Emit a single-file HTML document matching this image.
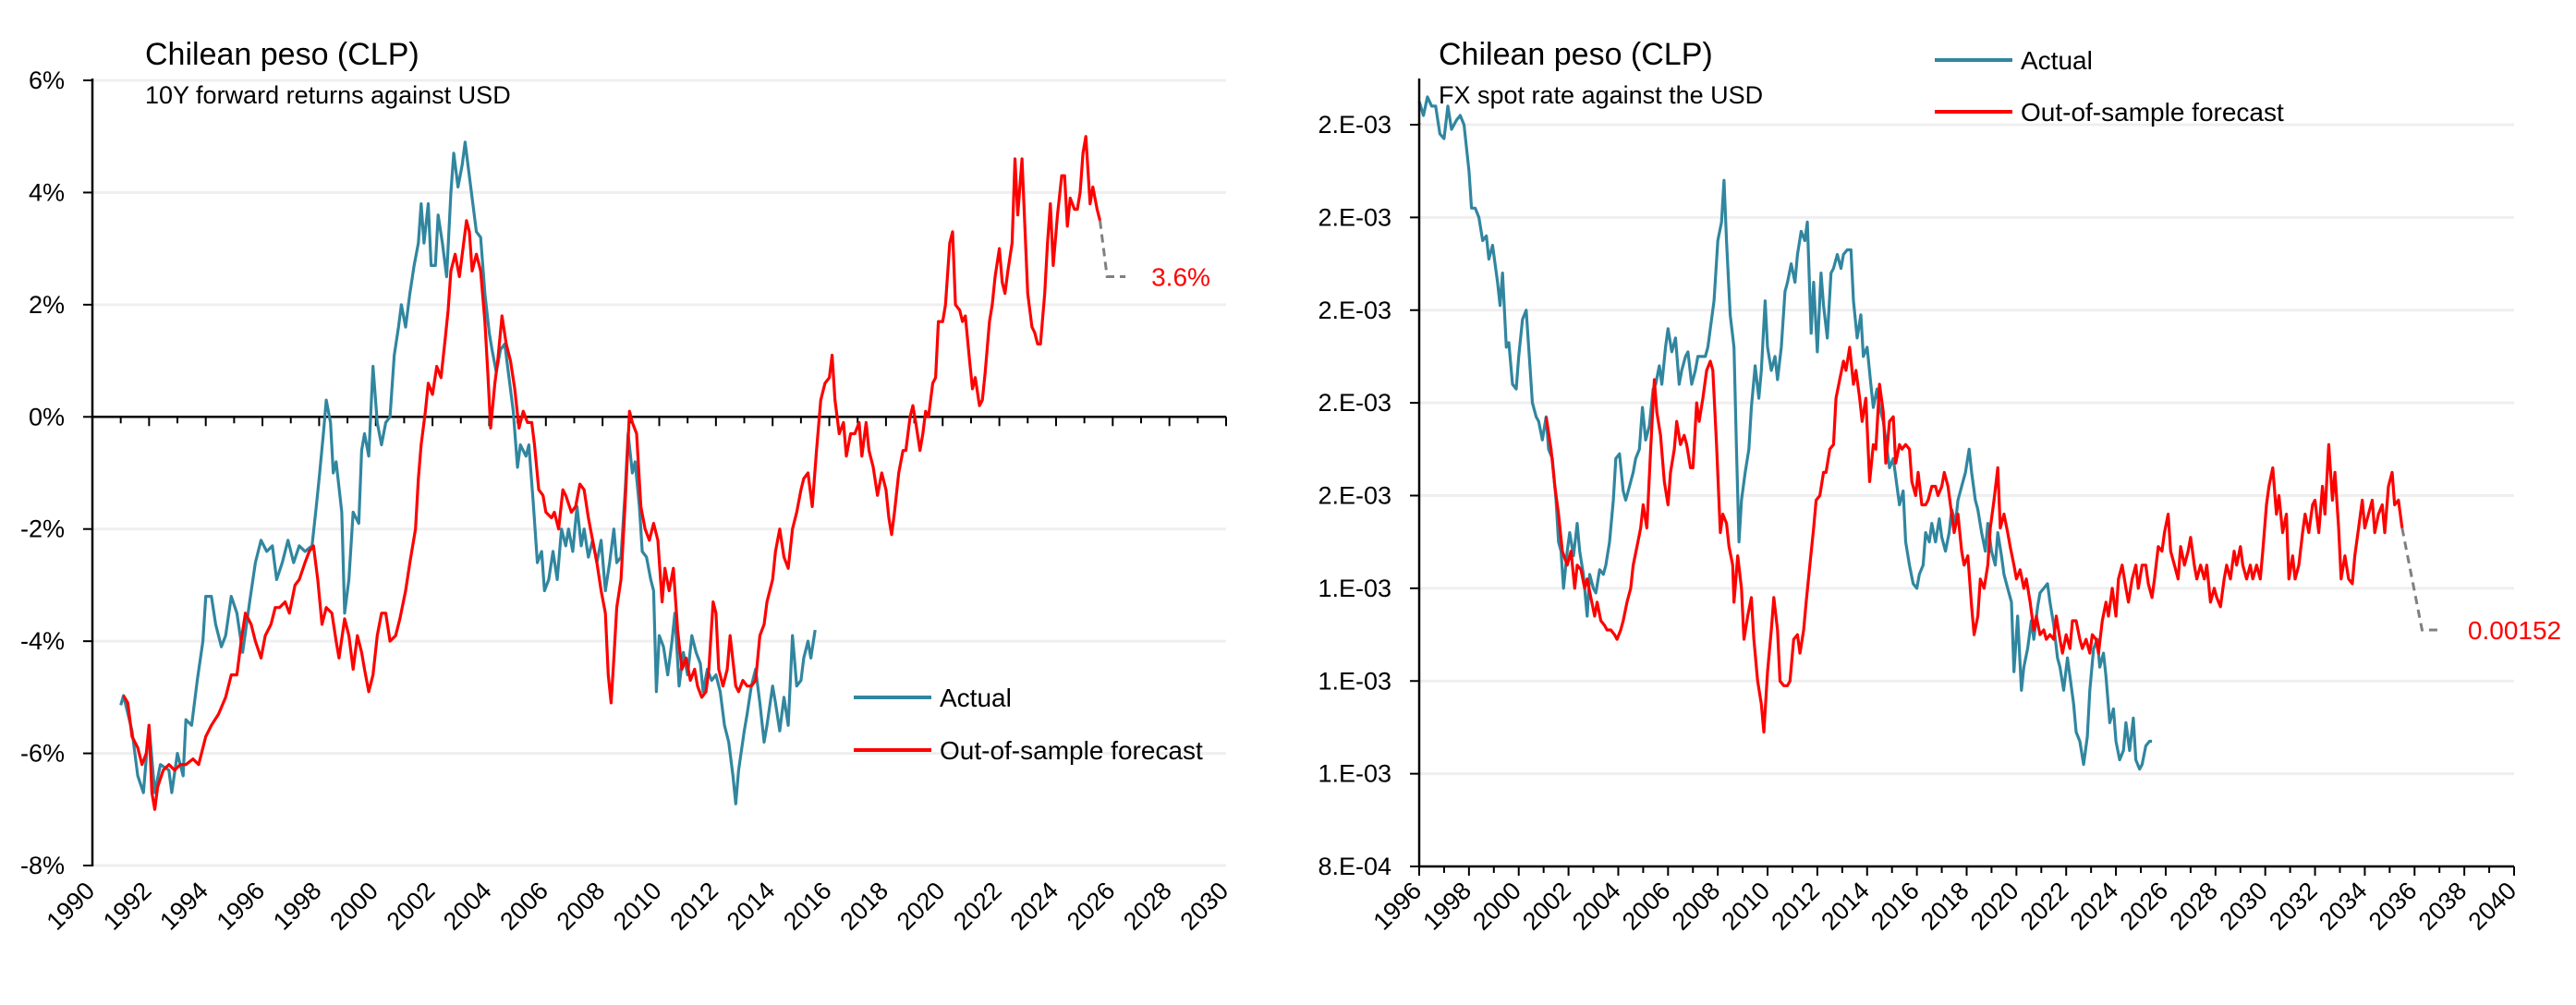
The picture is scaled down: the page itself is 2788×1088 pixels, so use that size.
<!DOCTYPE html>
<html><head><meta charset="utf-8"><style>
html,body{margin:0;padding:0;background:#fff;}
svg{display:block;font-family:"Liberation Sans Narrow","Liberation Sans",sans-serif;}
</style></head><body>
<svg id="c" width="2788" height="1088" viewBox="0 0 2788 1088"></svg>
<script>
// ---------- LEFT CHART DATA (10Y forward returns, %) ----------
const leftYTicks = [6,4,2,0,-2,-4,-6,-8];
const leftYLabels = ["6%","4%","2%","0%","-2%","-4%","-6%","-8%"];
const leftXTicks = [1990,1992,1994,1996,1998,2000,2002,2004,2006,2008,2010,2012,2014,2016,2018,2020,2022,2024,2026,2028,2030];
const leftActual = [[1991.0,-5.14],[1991.1,-4.97],[1991.4,-5.6],[1991.6,-6.4],[1991.8,-6.7],[1992.0,-5.5],[1992.2,-6.7],[1992.4,-6.2],[1992.7,-6.3],[1992.8,-6.7],[1993.0,-6.0],[1993.2,-6.4],[1993.3,-5.4],[1993.5,-5.5],[1993.7,-4.7],[1993.9,-4.0],[1994.0,-3.2],[1994.2,-3.2],[1994.35,-3.7],[1994.55,-4.1],[1994.7,-3.9],[1994.9,-3.2],[1995.1,-3.5],[1995.3,-4.2],[1995.55,-3.3],[1995.75,-2.6],[1995.95,-2.2],[1996.15,-2.4],[1996.35,-2.3],[1996.5,-2.9],[1996.7,-2.6],[1996.9,-2.2],[1997.1,-2.6],[1997.3,-2.3],[1997.5,-2.4],[1997.75,-2.3],[1997.9,-1.6],[1998.0,-1.1],[1998.15,-0.3],[1998.25,0.3],[1998.4,-0.1],[1998.5,-1.0],[1998.6,-0.8],[1998.8,-1.7],[1998.9,-3.5],[1999.05,-2.9],[1999.2,-1.7],[1999.4,-1.9],[1999.5,-0.6],[1999.6,-0.3],[1999.75,-0.7],[1999.9,0.9],[2000.05,-0.1],[2000.2,-0.5],[2000.35,-0.1],[2000.5,0.0],[2000.65,1.1],[2000.8,1.6],[2000.9,2.0],[2001.05,1.6],[2001.2,2.2],[2001.35,2.7],[2001.5,3.1],[2001.6,3.8],[2001.7,3.1],[2001.85,3.8],[2001.95,2.7],[2002.1,2.7],[2002.2,3.6],[2002.35,3.1],[2002.5,2.5],[2002.65,4.0],[2002.75,4.7],[2002.9,4.1],[2003.05,4.5],[2003.15,4.9],[2003.25,4.5],[2003.4,3.9],[2003.55,3.3],[2003.7,3.2],[2003.85,2.2],[2004.0,1.5],[2004.1,1.2],[2004.25,0.8],[2004.4,1.2],[2004.55,1.3],[2004.7,0.7],[2004.85,0.1],[2005.0,-0.9],[2005.1,-0.5],[2005.3,-0.7],[2005.4,-0.5],[2005.55,-1.5],[2005.7,-2.6],[2005.85,-2.4],[2005.95,-3.1],[2006.1,-2.9],[2006.25,-2.4],[2006.4,-2.9],[2006.55,-2.0],[2006.7,-2.3],[2006.8,-2.0],[2006.95,-2.4],[2007.1,-1.6],[2007.25,-2.3],[2007.35,-2.0],[2007.5,-2.5],[2007.65,-2.2],[2007.8,-2.6],[2007.95,-2.2],[2008.1,-3.1],[2008.25,-2.6],[2008.4,-2.0],[2008.5,-2.6],[2008.65,-2.5],[2008.8,-1.3],[2008.9,-0.3],[2009.05,-1.0],[2009.15,-0.8],[2009.3,-1.6],[2009.4,-2.4],[2009.55,-2.5],[2009.7,-2.9],[2009.8,-3.1],[2009.9,-4.9],[2010.0,-3.9],[2010.15,-4.1],[2010.3,-4.6],[2010.45,-4.0],[2010.55,-3.5],[2010.7,-4.8],[2010.85,-4.2],[2011.0,-4.6],[2011.15,-3.9],[2011.3,-4.2],[2011.45,-4.4],[2011.55,-4.9],[2011.7,-4.5],[2011.85,-4.7],[2012.0,-4.6],[2012.15,-4.9],[2012.3,-5.5],[2012.45,-5.8],[2012.6,-6.4],[2012.7,-6.9],[2012.8,-6.3],[2013.0,-5.6],[2013.1,-5.3],[2013.25,-4.8],[2013.4,-4.5],[2013.55,-5.1],[2013.7,-5.8],[2013.8,-5.5],[2014.0,-4.8],[2014.1,-5.1],[2014.25,-5.6],[2014.4,-5.0],[2014.55,-5.5],[2014.7,-3.9],[2014.85,-4.8],[2015.0,-4.7],[2015.1,-4.3],[2015.25,-4.0],[2015.35,-4.3],[2015.5,-3.8]];
const leftForecast = [[1991.1,-4.97],[1991.25,-5.1],[1991.4,-5.7],[1991.6,-5.9],[1991.75,-6.2],[1991.9,-6.0],[1992.0,-5.5],[1992.1,-6.7],[1992.2,-7.0],[1992.3,-6.6],[1992.5,-6.3],[1992.7,-6.2],[1992.9,-6.3],[1993.1,-6.2],[1993.3,-6.2],[1993.55,-6.1],[1993.75,-6.2],[1994.0,-5.7],[1994.2,-5.5],[1994.45,-5.3],[1994.7,-5.0],[1994.9,-4.6],[1995.1,-4.6],[1995.25,-4.0],[1995.4,-3.5],[1995.6,-3.7],[1995.75,-4.0],[1995.95,-4.3],[1996.1,-3.9],[1996.3,-3.7],[1996.45,-3.4],[1996.6,-3.4],[1996.8,-3.3],[1996.95,-3.5],[1997.15,-3.0],[1997.3,-2.9],[1997.5,-2.6],[1997.65,-2.4],[1997.8,-2.3],[1997.95,-2.9],[1998.1,-3.7],[1998.25,-3.4],[1998.45,-3.5],[1998.6,-4.0],[1998.7,-4.3],[1998.9,-3.6],[1999.05,-3.9],[1999.2,-4.5],[1999.35,-3.9],[1999.5,-4.2],[1999.6,-4.5],[1999.75,-4.9],[1999.9,-4.6],[2000.05,-3.9],[2000.2,-3.5],[2000.35,-3.5],[2000.5,-4.0],[2000.7,-3.9],[2000.85,-3.6],[2001.05,-3.1],[2001.2,-2.6],[2001.4,-2.0],[2001.5,-1.1],[2001.6,-0.5],[2001.75,0.1],[2001.85,0.6],[2002.0,0.4],[2002.15,0.9],[2002.3,0.7],[2002.45,1.4],[2002.55,1.9],[2002.65,2.6],[2002.8,2.9],[2002.95,2.5],[2003.05,2.9],[2003.2,3.5],[2003.3,3.3],[2003.4,2.6],[2003.55,2.9],[2003.7,2.6],[2003.85,1.7],[2003.95,0.8],[2004.05,-0.2],[2004.2,0.6],[2004.3,1.0],[2004.45,1.8],[2004.6,1.3],[2004.75,1.0],[2004.9,0.5],[2005.05,-0.2],[2005.2,0.1],[2005.35,-0.1],[2005.5,-0.1],[2005.6,-0.5],[2005.75,-1.3],[2005.9,-1.4],[2006.0,-1.7],[2006.2,-1.8],[2006.3,-1.7],[2006.45,-2.0],[2006.6,-1.3],[2006.7,-1.4],[2006.9,-1.7],[2007.05,-1.6],[2007.2,-1.2],[2007.35,-1.3],[2007.5,-1.8],[2007.65,-2.2],[2007.8,-2.6],[2007.95,-3.1],[2008.1,-3.5],[2008.2,-4.6],[2008.3,-5.1],[2008.4,-4.3],[2008.5,-3.4],[2008.65,-2.9],[2008.8,-1.5],[2008.95,0.1],[2009.05,-0.1],[2009.2,-0.3],[2009.35,-1.6],[2009.5,-2.0],[2009.65,-2.2],[2009.8,-1.9],[2009.95,-2.2],[2010.1,-3.3],[2010.2,-2.7],[2010.35,-3.1],[2010.5,-2.7],[2010.65,-3.8],[2010.8,-4.5],[2010.95,-4.3],[2011.1,-4.7],[2011.25,-4.5],[2011.35,-4.8],[2011.5,-5.0],[2011.65,-4.9],[2011.75,-4.5],[2011.9,-3.3],[2012.0,-3.5],[2012.1,-4.5],[2012.25,-4.8],[2012.4,-4.5],[2012.5,-3.9],[2012.7,-4.8],[2012.8,-4.9],[2012.95,-4.7],[2013.1,-4.8],[2013.25,-4.8],[2013.4,-4.7],[2013.55,-3.9],[2013.7,-3.7],[2013.8,-3.3],[2014.0,-2.9],[2014.1,-2.4],[2014.25,-2.0],[2014.4,-2.5],[2014.55,-2.7],[2014.7,-2.0],[2014.85,-1.7],[2015.0,-1.3],[2015.1,-1.1],[2015.25,-1.0],[2015.4,-1.6],[2015.55,-0.6],[2015.7,0.3],[2015.85,0.6],[2016.0,0.7],[2016.1,1.1],[2016.2,0.3],[2016.35,-0.3],[2016.5,-0.1],[2016.6,-0.7],[2016.75,-0.3],[2016.9,-0.3],[2017.05,-0.1],[2017.15,-0.7],[2017.3,-0.1],[2017.4,-0.6],[2017.55,-0.9],[2017.7,-1.4],[2017.85,-1.0],[2018.0,-1.3],[2018.1,-1.8],[2018.2,-2.1],[2018.3,-1.7],[2018.45,-1.0],[2018.6,-0.6],[2018.7,-0.6],[2018.85,0.0],[2018.95,0.2],[2019.05,-0.1],[2019.2,-0.6],[2019.3,-0.3],[2019.4,0.1],[2019.5,0.0],[2019.65,0.6],[2019.75,0.7],[2019.85,1.7],[2020.0,1.7],[2020.1,2.0],[2020.25,3.1],[2020.35,3.3],[2020.45,2.0],[2020.6,1.9],[2020.7,1.7],[2020.8,1.8],[2020.95,1.0],[2021.05,0.5],[2021.15,0.7],[2021.3,0.2],[2021.4,0.3],[2021.5,0.8],[2021.65,1.7],[2021.75,2.0],[2021.85,2.5],[2022.0,3.0],[2022.1,2.4],[2022.2,2.2],[2022.3,2.6],[2022.45,3.1],[2022.55,4.6],[2022.65,3.6],[2022.8,4.6],[2022.9,3.4],[2023.0,2.2],[2023.15,1.6],[2023.25,1.5],[2023.35,1.3],[2023.45,1.3],[2023.6,2.2],[2023.7,3.1],[2023.8,3.8],[2023.9,2.7],[2024.05,3.6],[2024.2,4.3],[2024.3,4.3],[2024.4,3.4],[2024.5,3.9],[2024.65,3.7],[2024.75,3.7],[2024.85,4.0],[2024.95,4.7],[2025.05,5.0],[2025.2,3.8],[2025.3,4.1],[2025.45,3.7],[2025.55,3.5]];
const leftProjection = [[2025.55,3.5],[2025.8,2.5],[2026.45,2.5]];
const leftEndLabel = "3.6%";

// ---------- RIGHT CHART DATA (FX spot, ×1e-3 USD per CLP) ----------
const rightYTicks = [2.4,2.2,2.0,1.8,1.6,1.4,1.2,1.0,0.8];
const rightYLabels = ["2.E-03","2.E-03","2.E-03","2.E-03","2.E-03","1.E-03","1.E-03","1.E-03","8.E-04"];
const rightXTicks = [1996,1998,2000,2002,2004,2006,2008,2010,2012,2014,2016,2018,2020,2022,2024,2026,2028,2030,2032,2034,2036,2038,2040];
const rightActual = [[1996.0,2.45],[1996.17,2.42],[1996.33,2.46],[1996.5,2.44],[1996.66,2.44],[1996.83,2.38],[1997.0,2.37],[1997.15,2.44],[1997.3,2.39],[1997.5,2.41],[1997.65,2.42],[1997.8,2.40],[1998.0,2.30],[1998.1,2.22],[1998.25,2.22],[1998.4,2.2],[1998.55,2.15],[1998.7,2.16],[1998.8,2.11],[1998.95,2.14],[1999.15,2.06],[1999.25,2.01],[1999.35,2.08],[1999.5,1.92],[1999.6,1.93],[1999.75,1.84],[1999.9,1.83],[2000.0,1.90],[2000.15,1.98],[2000.3,2.0],[2000.4,1.92],[2000.55,1.8],[2000.7,1.77],[2000.8,1.76],[2000.95,1.72],[2001.1,1.77],[2001.2,1.7],[2001.35,1.68],[2001.5,1.59],[2001.6,1.50],[2001.7,1.48],[2001.8,1.40],[2001.95,1.48],[2002.05,1.52],[2002.2,1.47],[2002.35,1.54],[2002.45,1.48],[2002.6,1.43],[2002.75,1.34],[2002.85,1.43],[2003.0,1.40],[2003.1,1.39],[2003.25,1.44],[2003.4,1.43],[2003.5,1.45],[2003.65,1.50],[2003.8,1.59],[2003.9,1.68],[2004.05,1.69],[2004.2,1.61],[2004.3,1.59],[2004.45,1.62],[2004.6,1.65],[2004.7,1.68],[2004.85,1.7],[2004.97,1.79],[2005.1,1.72],[2005.25,1.75],[2005.4,1.83],[2005.5,1.84],[2005.65,1.88],[2005.75,1.84],[2005.9,1.92],[2006.0,1.96],[2006.15,1.91],[2006.3,1.94],[2006.45,1.84],[2006.55,1.87],[2006.7,1.90],[2006.8,1.91],[2006.95,1.84],[2007.1,1.87],[2007.2,1.90],[2007.35,1.90],[2007.5,1.90],[2007.6,1.92],[2007.75,1.98],[2007.85,2.02],[2008.0,2.15],[2008.15,2.19],[2008.25,2.28],[2008.35,2.15],[2008.5,1.99],[2008.65,1.92],[2008.75,1.7],[2008.85,1.50],[2008.95,1.59],[2009.1,1.65],[2009.25,1.7],[2009.35,1.79],[2009.5,1.88],[2009.65,1.81],[2009.75,1.87],[2009.9,2.02],[2010.0,1.92],[2010.15,1.87],[2010.3,1.90],[2010.4,1.85],[2010.55,1.92],[2010.7,2.04],[2010.8,2.06],[2010.95,2.10],[2011.1,2.06],[2011.2,2.12],[2011.35,2.17],[2011.5,2.15],[2011.6,2.19],[2011.75,1.95],[2011.85,2.06],[2012.0,1.91],[2012.15,2.08],[2012.25,2.01],[2012.4,1.94],[2012.55,2.08],[2012.65,2.09],[2012.8,2.12],[2012.95,2.09],[2013.05,2.12],[2013.2,2.13],[2013.35,2.13],[2013.45,2.02],[2013.6,1.94],[2013.75,1.99],[2013.85,1.90],[2014.0,1.92],[2014.15,1.84],[2014.25,1.79],[2014.4,1.83],[2014.5,1.79],[2014.65,1.76],[2014.8,1.7],[2014.9,1.66],[2015.05,1.68],[2015.2,1.62],[2015.3,1.58],[2015.45,1.61],[2015.55,1.50],[2015.7,1.45],[2015.85,1.41],[2016.0,1.40],[2016.1,1.43],[2016.25,1.45],[2016.35,1.52],[2016.5,1.50],[2016.6,1.54],[2016.75,1.50],[2016.9,1.55],[2017.0,1.51],[2017.15,1.48],[2017.3,1.52],[2017.4,1.57],[2017.55,1.54],[2017.65,1.59],[2017.8,1.62],[2017.95,1.65],[2018.1,1.70],[2018.2,1.65],[2018.35,1.59],[2018.45,1.57],[2018.6,1.52],[2018.75,1.48],[2018.85,1.54],[2019.0,1.48],[2019.15,1.45],[2019.25,1.52],[2019.4,1.47],[2019.5,1.43],[2019.65,1.40],[2019.8,1.37],[2019.9,1.22],[2020.05,1.34],[2020.2,1.18],[2020.3,1.23],[2020.45,1.27],[2020.6,1.33],[2020.7,1.29],[2020.85,1.36],[2020.95,1.39],[2021.1,1.40],[2021.25,1.41],[2021.35,1.37],[2021.5,1.32],[2021.65,1.25],[2021.75,1.23],[2021.9,1.18],[2022.05,1.25],[2022.15,1.21],[2022.3,1.15],[2022.4,1.09],[2022.55,1.07],[2022.7,1.02],[2022.85,1.08],[2022.95,1.18],[2023.1,1.27],[2023.25,1.29],[2023.35,1.23],[2023.5,1.26],[2023.6,1.21],[2023.75,1.11],[2023.9,1.14],[2024.0,1.07],[2024.15,1.03],[2024.3,1.05],[2024.4,1.11],[2024.55,1.05],[2024.7,1.12],[2024.8,1.03],[2024.95,1.01],[2025.05,1.02],[2025.2,1.06],[2025.35,1.07],[2025.45,1.07]];
const rightForecast = [[2001.1,1.77],[2001.3,1.70],[2001.45,1.62],[2001.6,1.56],[2001.75,1.48],[2001.95,1.45],[2002.1,1.48],[2002.25,1.40],[2002.35,1.45],[2002.5,1.44],[2002.65,1.40],[2002.75,1.42],[2002.9,1.38],[2003.05,1.34],[2003.15,1.37],[2003.3,1.33],[2003.45,1.32],[2003.55,1.31],[2003.7,1.31],[2003.85,1.30],[2003.95,1.29],[2004.1,1.31],[2004.2,1.33],[2004.35,1.37],[2004.5,1.40],[2004.6,1.45],[2004.75,1.49],[2004.9,1.53],[2005.0,1.58],[2005.15,1.53],[2005.3,1.70],[2005.45,1.85],[2005.55,1.78],[2005.7,1.73],[2005.85,1.63],[2006.0,1.58],[2006.1,1.65],[2006.25,1.70],[2006.35,1.76],[2006.5,1.71],[2006.65,1.73],[2006.75,1.71],[2006.9,1.66],[2007.0,1.66],[2007.15,1.80],[2007.25,1.76],[2007.4,1.81],[2007.55,1.87],[2007.7,1.89],[2007.8,1.87],[2007.95,1.71],[2008.1,1.52],[2008.2,1.56],[2008.35,1.54],[2008.45,1.49],[2008.6,1.45],[2008.65,1.37],[2008.8,1.47],[2008.95,1.40],[2009.05,1.29],[2009.2,1.34],[2009.35,1.38],[2009.45,1.29],[2009.6,1.20],[2009.75,1.15],[2009.85,1.09],[2010.0,1.22],[2010.15,1.31],[2010.25,1.38],[2010.4,1.31],[2010.5,1.20],[2010.65,1.19],[2010.8,1.19],[2010.9,1.20],[2011.05,1.29],[2011.2,1.30],[2011.3,1.26],[2011.45,1.31],[2011.55,1.37],[2011.7,1.45],[2011.85,1.53],[2011.95,1.59],[2012.1,1.60],[2012.25,1.65],[2012.35,1.65],[2012.5,1.70],[2012.65,1.71],[2012.75,1.81],[2012.9,1.85],[2013.05,1.89],[2013.15,1.87],[2013.3,1.92],[2013.45,1.84],[2013.55,1.87],[2013.7,1.81],[2013.8,1.76],[2013.95,1.81],[2014.1,1.63],[2014.25,1.71],[2014.35,1.70],[2014.5,1.84],[2014.65,1.78],[2014.75,1.67],[2014.9,1.76],[2015.05,1.77],[2015.15,1.67],[2015.3,1.71],[2015.4,1.70],[2015.55,1.71],[2015.7,1.70],[2015.8,1.63],[2015.95,1.60],[2016.05,1.65],[2016.2,1.58],[2016.35,1.58],[2016.45,1.59],[2016.6,1.62],[2016.75,1.62],[2016.85,1.60],[2017.0,1.62],[2017.1,1.65],[2017.25,1.62],[2017.4,1.56],[2017.5,1.52],[2017.65,1.56],[2017.8,1.48],[2017.9,1.45],[2018.05,1.47],[2018.2,1.36],[2018.3,1.30],[2018.45,1.34],[2018.55,1.42],[2018.7,1.40],[2018.85,1.45],[2018.95,1.53],[2019.1,1.59],[2019.25,1.66],[2019.35,1.53],[2019.5,1.56],[2019.65,1.52],[2019.75,1.49],[2019.9,1.45],[2020.0,1.42],[2020.15,1.44],[2020.3,1.40],[2020.4,1.42],[2020.55,1.37],[2020.7,1.31],[2020.8,1.34],[2020.95,1.30],[2021.1,1.31],[2021.2,1.29],[2021.35,1.30],[2021.5,1.29],[2021.6,1.34],[2021.75,1.29],[2021.85,1.26],[2022.0,1.30],[2022.15,1.27],[2022.25,1.33],[2022.4,1.33],[2022.55,1.29],[2022.65,1.27],[2022.8,1.29],[2022.95,1.26],[2023.05,1.30],[2023.2,1.29],[2023.3,1.26],[2023.45,1.33],[2023.6,1.37],[2023.7,1.34],[2023.85,1.40],[2024.0,1.34],[2024.1,1.42],[2024.25,1.45],[2024.4,1.40],[2024.5,1.37],[2024.65,1.42],[2024.8,1.45],[2024.9,1.40],[2025.05,1.45],[2025.2,1.45],[2025.3,1.41],[2025.45,1.38],[2025.55,1.42],[2025.7,1.49],[2025.85,1.48],[2025.95,1.52],[2026.1,1.56],[2026.2,1.48],[2026.35,1.45],[2026.5,1.42],[2026.6,1.49],[2026.75,1.45],[2026.9,1.48],[2027.0,1.51],[2027.15,1.45],[2027.25,1.42],[2027.4,1.45],[2027.55,1.42],[2027.65,1.45],[2027.8,1.37],[2027.95,1.40],[2028.05,1.38],[2028.2,1.36],[2028.35,1.42],[2028.45,1.45],[2028.6,1.42],[2028.75,1.48],[2028.85,1.45],[2029.0,1.49],[2029.1,1.45],[2029.25,1.42],[2029.4,1.45],[2029.5,1.42],[2029.65,1.45],[2029.8,1.42],[2029.9,1.48],[2030.05,1.58],[2030.15,1.62],[2030.3,1.66],[2030.45,1.56],[2030.55,1.60],[2030.7,1.52],[2030.85,1.56],[2030.95,1.42],[2031.1,1.47],[2031.2,1.42],[2031.35,1.45],[2031.5,1.52],[2031.6,1.56],[2031.75,1.52],[2031.9,1.58],[2032.0,1.59],[2032.15,1.52],[2032.3,1.62],[2032.4,1.56],[2032.55,1.71],[2032.7,1.59],[2032.8,1.65],[2032.95,1.53],[2033.05,1.42],[2033.2,1.47],[2033.35,1.42],[2033.5,1.41],[2033.6,1.47],[2033.75,1.53],[2033.9,1.59],[2034.0,1.53],[2034.15,1.56],[2034.3,1.59],[2034.4,1.52],[2034.55,1.56],[2034.7,1.58],[2034.8,1.52],[2034.95,1.62],[2035.1,1.65],[2035.2,1.58],[2035.35,1.59],[2035.5,1.53]];
const rightProjection = [[2035.5,1.53],[2036.3,1.31],[2037.1,1.31]];
const rightEndLabel = "0.00152";

const svg = document.getElementById('c');
const NS = 'http://www.w3.org/2000/svg';
function mk(tag, attrs, parent){ const e=document.createElementNS(NS,tag); for(const k in attrs) e.setAttribute(k,attrs[k]); (parent||svg).appendChild(e); return e; }

function drawChart(cfg){
  const g = mk('g',{});
  
  
  const xs = v => cfg.x0 + (v - cfg.xmin)/(cfg.xmax - cfg.xmin)*(cfg.x1 - cfg.x0);
  const ys = v => cfg.y0 + (cfg.ymax - v)/(cfg.ymax - cfg.ymin)*(cfg.y1 - cfg.y0);
  // gridlines + y labels
  cfg.yTicks.forEach((t,i)=>{
    const y = ys(t);
    const gl = mk('line',{x1:cfg.x0,x2:cfg.x1,y1:y,y2:y,stroke:'#efefef','stroke-width':3},g);
    
    
    const tk = mk('line',{x1:cfg.x0-10,x2:cfg.x0,y1:y,y2:y,stroke:'#000','stroke-width':2},g);
    
    
    const tx = mk('text',{x:cfg.x0-cfg.ylabGap,y:y+9,'text-anchor':'end','font-size':27,fill:'#000'},g);
    tx.textContent = cfg.yLabels[i];
    
    
  });
  // y axis
  const ya = mk('line',{x1:cfg.x0,x2:cfg.x0,y1:cfg.y0-2,y2:cfg.y1+1,stroke:'#000','stroke-width':2.5},g);
  
  
  // x axis
  const axY = ys(cfg.xAxisAt);
  const xa = mk('line',{x1:cfg.x0,x2:cfg.x1,y1:axY,y2:axY,stroke:'#000','stroke-width':2.5},g);
  
  
  for(let yr=cfg.xmin; yr<=cfg.xmax; yr++){
    const major = (yr - cfg.xmin)%2===0;
    const t = mk('line',{x1:xs(yr),x2:xs(yr),y1:axY,y2:axY+(major?10:7),stroke:'#000','stroke-width':2},g);
    
    
  }
  cfg.xTicks.forEach(yr=>{
    const x = xs(yr)+4, y = cfg.xlabY;
    const tx = mk('text',{x:x,y:y,'text-anchor':'end','font-size':27,fill:'#000',transform:`rotate(-45 ${x} ${y})`},g);
    tx.textContent = String(yr);
    
    
  });
  const path = pts => pts.map((p,i)=>(i?'L':'M')+xs(p[0]).toFixed(1)+' '+ys(p[1]).toFixed(1)).join(' ');
  const a = mk('path',{d:path(cfg.actual),fill:'none',stroke:'#31869f','stroke-width':3.2,'stroke-linejoin':'round'},g);
  
  
  const f = mk('path',{d:path(cfg.forecast),fill:'none',stroke:'#ff0000','stroke-width':3.2,'stroke-linejoin':'round'},g);
  
  
  const p = mk('path',{d:path(cfg.proj),fill:'none',stroke:'#808080','stroke-width':3,'stroke-dasharray':'9 6'},g);
  
  
  const last = cfg.proj[cfg.proj.length-1];
  const el = mk('text',{x:xs(last[0])+28,y:ys(last[1])+10,'font-size':28,fill:'#ff0000'},g);
  el.textContent = cfg.endLabel;
  
  
  // titles
  const t1 = mk('text',{x:cfg.tx,y:70,'font-size':34,fill:'#000'},g);
  t1.textContent = 'Chilean peso (CLP)';
  
  
  const t2 = mk('text',{x:cfg.tx,y:112,'font-size':27,fill:'#000'},g);
  t2.textContent = cfg.subtitle;
  
  
  // legend
  [['Actual','#31869f',cfg.legY1],['Out-of-sample forecast','#ff0000',cfg.legY2]].forEach(l=>{
    const ln = mk('line',{x1:cfg.legX,x2:cfg.legX+84,y1:l[2],y2:l[2],stroke:l[1],'stroke-width':4},g);
    
    
    const lt = mk('text',{x:cfg.legX+93,y:l[2]+10,'font-size':28,fill:'#000'},g);
    lt.textContent = l[0];
    
    
  });
}

drawChart({name:'left-chart-returns',x0:100,x1:1327,y0:87,y1:937,xmin:1990,xmax:2030,ymin:-8,ymax:6,
  yTicks:leftYTicks,yLabels:leftYLabels,xTicks:leftXTicks,xAxisAt:0,xlabY:966,ylabGap:30,
  actual:leftActual,forecast:leftForecast,proj:leftProjection,endLabel:leftEndLabel,
  tx:157,subtitle:'10Y forward returns against USD',legX:924,legY1:755,legY2:812});

drawChart({name:'right-chart-spot',x0:1536,x1:2721,y0:135,y1:938,xmin:1996,xmax:2040,ymin:0.8,ymax:2.4,
  yTicks:rightYTicks,yLabels:rightYLabels,xTicks:rightXTicks,xAxisAt:0.8,xlabY:966,ylabGap:30,
  actual:rightActual,forecast:rightForecast,proj:rightProjection,endLabel:rightEndLabel,
  tx:1557,subtitle:'FX spot rate against the USD',legX:2094,legY1:65,legY2:121});
// extend right y-axis to top
const ext = mk('line',{x1:1536,x2:1536,y1:85,y2:135,stroke:'#000','stroke-width':2.5});


</script>
</body></html>
